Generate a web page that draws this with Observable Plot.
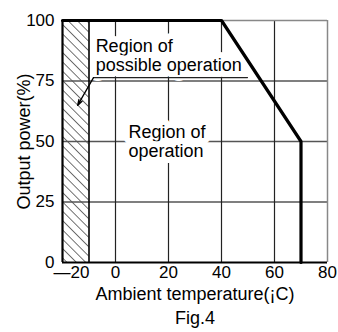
<!DOCTYPE html>
<html>
<head>
<meta charset="utf-8">
<script src="https://cdn.jsdelivr.net/npm/d3@7"></script>
<script src="https://cdn.jsdelivr.net/npm/@observablehq/plot@0.6"></script>
<style>
  html, body { margin: 0; padding: 0; background: #fff; }
  svg { display: block; }
</style>
</head>
<body>
<div id="chart"></div>
<script>
// ---- data ----
const xTicks = [-20, 0, 20, 40, 60, 80];
const xTickLabels = ["—20", "0", "20", "40", "60", "80"];
const yTicks = [0, 25, 50, 75, 100];
const yTickLabels = ["0", "25", "50", "75", "100"];
const xGrid = [0, 20, 40, 60];
const yGrid = [25, 50, 75];
const curveTemp = [-20, 40, 70, 70];
const curvePower = [100, 100, 50, 0];
const hatchTemp = [-20, -10];
const powerRange = [0, 100];
const labelTexts = ["Region of\npossible operation", "Region of\noperation"];
const labelTemp = [-7.5, 4.9];
const labelPower = [85.7, 50.2];
const leaderTemp = [49.8, -8.3];
const leaderPower = [76.4, 76.4];
const arrowTemp = [-8.3, -14.3];
const arrowPower = [76.4, 64.9];
const xTitle = "Ambient temperature(¡C)";
const yTitle = "Output power(%)";
const caption = "Fig.4";

const curve = curveTemp.map((t, i) => ({t, p: curvePower[i]}));
const labels = labelTexts.map((s, i) => ({s, t: labelTemp[i], p: labelPower[i]}));
const leader = leaderTemp.map((t, i) => ({t, p: leaderPower[i]}));
const FONT = "'Liberation Sans', Arial, Helvetica, sans-serif";

const svg = Plot.plot({
  width: 338,
  height: 332,
  marginLeft: 62,
  marginRight: 11,
  marginTop: 20,
  marginBottom: 70,
  style: {fontFamily: FONT, fontSize: "17px", color: "#000", background: "#fff"},
  x: {domain: [-20, 80], axis: null},
  y: {domain: [0, 100], axis: null},
  marks: [
    // hatched region
    Plot.rect([0], {x1: () => hatchTemp[0], x2: () => hatchTemp[1], y1: () => powerRange[0], y2: () => powerRange[1], fill: "url(#hatch)"}),
    // grid
    Plot.ruleY(yGrid, {stroke: "#555", strokeWidth: 1.3}),
    Plot.ruleX(xGrid, {stroke: "#222", strokeWidth: 1.2}),
    // frame (top / right gray)
    Plot.ruleY([powerRange[1]], {stroke: "#888", strokeWidth: 1.5}),
    Plot.ruleX([xTicks[xTicks.length - 1]], {stroke: "#888", strokeWidth: 1.5}),
    // region labels with white halo
    Plot.text(labels, {x: "t", y: "p", text: "s", textAnchor: "start", lineAnchor: "middle", lineHeight: 1.08,
      fontSize: 18, fill: "#000", stroke: "#fff", strokeWidth: 12, strokeLinejoin: "round", paintOrder: "stroke"}),
    // hatch boundary
    Plot.ruleX([hatchTemp[1]], {y1: powerRange[0], y2: powerRange[1], stroke: "#000", strokeWidth: 1.6}),
    // leader + arrow
    Plot.line(leader, {x: "t", y: "p", stroke: "#222", strokeWidth: 1.2}),
    Plot.arrow([0], {x1: () => arrowTemp[0], y1: () => arrowPower[0], x2: () => arrowTemp[1], y2: () => arrowPower[1],
      stroke: "#000", strokeWidth: 1.3, headLength: 7, headAngle: 35}),
    // derating curve
    Plot.line(curve, {x: "t", y: "p", stroke: "#000", strokeWidth: 3.2, strokeLinejoin: "miter"}),
    // left & bottom axis lines
    Plot.ruleX([xTicks[0]], {stroke: "#000", strokeWidth: 2.2}),
    Plot.ruleY([powerRange[0]], {stroke: "#000", strokeWidth: 2.2}),
    // x tick labels
    Plot.text(xTicks.slice(1), {x: d => d, text: (d, i) => xTickLabels[i + 1], frameAnchor: "bottom", dy: 15, fontSize: 17}),
    Plot.text(xTicks.slice(0, 1), {x: d => d, text: () => xTickLabels[0], frameAnchor: "bottom", dy: 15, dx: -9, textAnchor: "start", fontSize: 17}),
    // y tick labels
    Plot.text(yTicks, {y: d => d, text: (d, i) => yTickLabels[i], frameAnchor: "left", dx: -8, textAnchor: "end", fontSize: 17}),
    // axis titles
    Plot.text([xTitle], {text: d => d, frameAnchor: "bottom", dy: 37, textAnchor: "middle", fontSize: 18}),
    Plot.text([yTitle], {text: d => d, frameAnchor: "left", dx: -38, rotate: -90, textAnchor: "middle", fontSize: 18}),
    Plot.text([caption], {text: d => d, frameAnchor: "bottom", dy: 61, textAnchor: "middle", fontSize: 18})
  ]
});

// hatch pattern definition
const defs = d3.select(svg).insert("defs", ":first-child");
const pat = defs.append("pattern")
  .attr("id", "hatch")
  .attr("patternUnits", "userSpaceOnUse")
  .attr("width", 6.6)
  .attr("height", 10)
  .attr("patternTransform", "rotate(-45)");
pat.append("line")
  .attr("x1", 0).attr("y1", 0).attr("x2", 0).attr("y2", 10)
  .attr("stroke", "#000").attr("stroke-width", 1.1);

document.getElementById("chart").appendChild(svg);
</script>
</body>
</html>
